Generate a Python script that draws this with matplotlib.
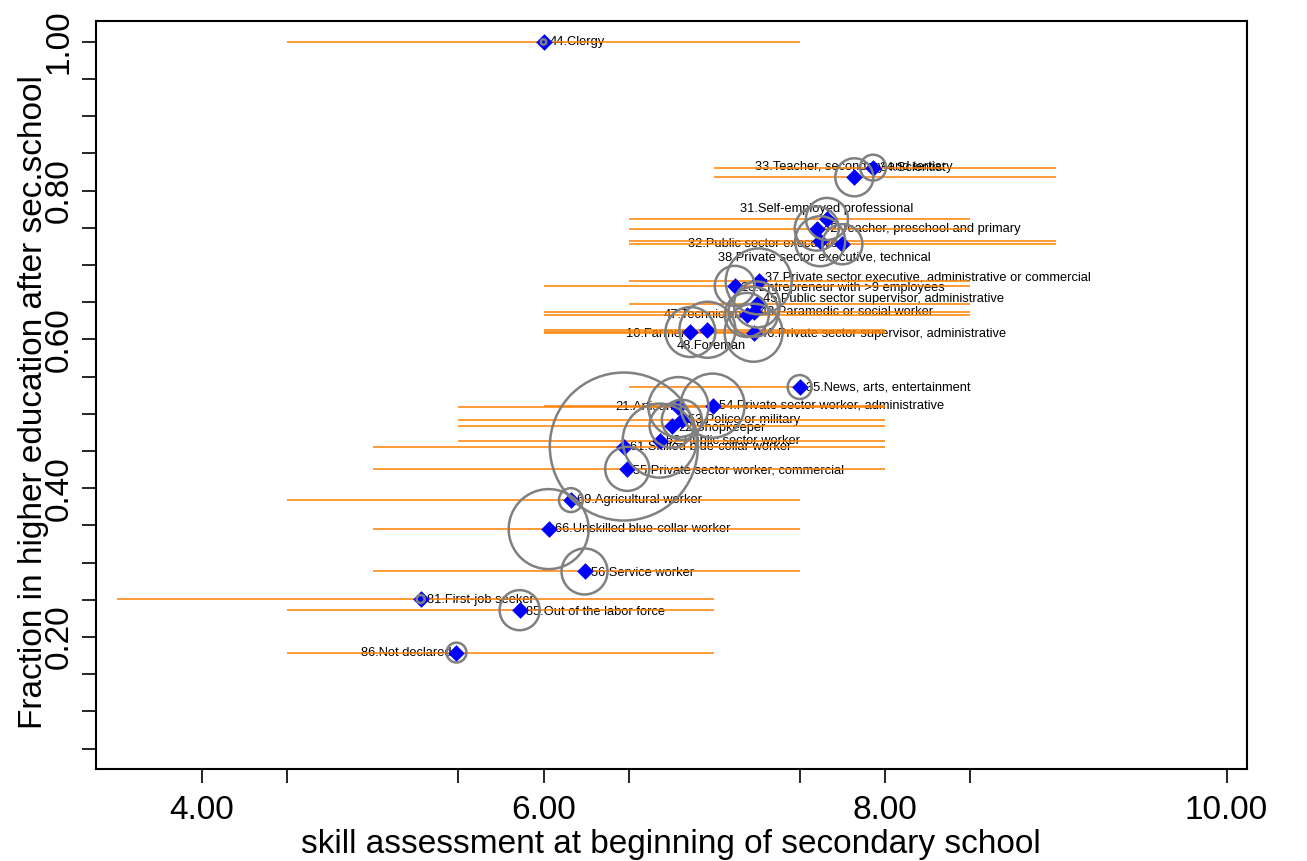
import numpy as np
import matplotlib.pyplot as plt

# occupation of the parent (code + short name)
codes = [44, 33, 34, 31, 42, 32, 38, 37, 23, 45, 43, 47, 10, 48, 46,
         35, 21, 54, 53, 22, 52, 61, 55, 69, 66, 56, 81, 85, 86]
names = ["Clergy", "Teacher, secondary and tertiary", "Scientist",
         "Self-employed professional", "Teacher, preschool and primary",
         "Public sector executive", "Private sector executive, technical",
         "Private sector executive, administrative or commercial",
         "Entrepreneur with >9 employees", "Public sector supervisor, administrative",
         "Paramedic or social worker", "Technician", "Farmer", "Foreman",
         "Private sector supervisor, administrative", "News, arts, entertainment",
         "Artisan", "Private sector worker, administrative", "Police or military",
         "Shopkeeper", "Public sector worker", "Skilled blue-collar worker",
         "Private sector worker, commercial", "Agricultural worker",
         "Unskilled blue-collar worker", "Service worker", "First-job seeker",
         "Out of the labor force", "Not declared"]

# mean skill at entry, fraction going on to higher education
skill_mean = [6.00, 7.82, 7.93, 7.66, 7.60, 7.75, 7.62, 7.26, 7.12, 7.25, 7.23, 7.19, 6.86, 6.96, 7.23,
              7.50, 6.79, 6.99, 6.81, 6.75, 6.68, 6.47, 6.49, 6.16, 6.03, 6.24, 5.28, 5.86, 5.49]
frac_higher = [1.000, 0.818, 0.831, 0.762, 0.749, 0.728, 0.732, 0.678, 0.672, 0.647, 0.637, 0.633, 0.610, 0.613, 0.609,
               0.536, 0.509, 0.511, 0.492, 0.484, 0.464, 0.456, 0.426, 0.384, 0.345, 0.288, 0.251, 0.236, 0.179]

# skill range (low / high) within each group
skill_lo = [4.5, 7.0, 7.0, 6.5, 6.5, 6.5, 6.5, 6.5, 6.0, 6.5, 6.0, 6.0, 6.0, 6.0, 6.0,
            6.5, 5.5, 6.0, 5.5, 5.5, 5.5, 5.0, 5.0, 4.5, 5.0, 5.0, 3.5, 4.5, 4.5]
skill_hi = [7.5, 9.0, 9.0, 8.5, 8.5, 9.0, 9.0, 8.5, 8.5, 8.5, 8.5, 8.5, 8.0, 8.0, 8.0,
            7.5, 8.0, 8.0, 8.0, 8.0, 8.0, 8.0, 8.0, 7.5, 7.5, 7.5, 7.0, 7.0, 7.0]

# share of students (%) -> circle area
share = [0.02, 0.99, 0.46, 1.21, 1.33, 1.10, 1.71, 2.98, 1.10, 1.45, 1.71, 1.33, 1.71, 2.15, 2.30,
         0.39, 2.47, 2.81, 1.10, 1.33, 3.75, 15.0, 1.33, 0.39, 4.38, 1.45, 0.044, 1.10, 0.27]

# marker label clock positions
label_pos = {44: 3, 33: 12, 34: 3, 31: 12, 42: 3, 32: 9, 38: 6, 37: 3, 23: 3, 45: 3,
             43: 3, 47: 9, 10: 9, 48: 6, 46: 3, 35: 3, 21: 9, 54: 3, 53: 3, 22: 3,
             52: 3, 61: 3, 55: 3, 69: 3, 66: 3, 56: 3, 81: 3, 85: 3, 86: 9}
# small vertical nudges (points) for crowded labels
label_nudge = {37: 3.0, 23: -1.5, 45: 4.0, 46: -1.0, 10: -1.5, 22: -1.5, 55: -1.0,
               56: -1.0, 81: -1.0, 85: -1.5}

plt.rcParams["font.family"] = ["Liberation Sans", "DejaVu Sans"]

fig = plt.figure(figsize=(13.07, 8.61), dpi=100)
ax = fig.add_axes([0.0731, 0.1069, 0.881, 0.8691])

y = np.array(frac_higher)
ax.hlines(y, skill_lo, skill_hi, color="#ff8000", lw=1.1, zorder=2)
ax.scatter(skill_mean, y, marker="D", s=72, color="#0000ff", lw=0, zorder=3)
ax.scatter(skill_mean, y, s=np.array(share) * 757, facecolors="none",
           edgecolors="#808080", lw=1.8, zorder=4)

# offsets in points for each clock position
place = {3: (4.5, 0, "left"), 9: (-3.5, 0, "right"),
         12: (0, 7.5, "center"), 6: (3, -11.5, "center")}
for c, n, xv, yv in zip(codes, names, skill_mean, frac_higher):
    dx, dy, ha = place[label_pos[c]]
    dy += label_nudge.get(c, 0)
    ax.annotate(f"{c}.{n}", (xv, yv), xytext=(dx, dy), textcoords="offset points",
                ha=ha, va="center", fontsize=9.3, color="black", zorder=1)

ax.set_xlim(3.376, 10.12)
ax.set_ylim(0.0225, 1.0286)

xt = [4, 4.5, 5.5, 6, 6.5, 7.5, 8, 8.5, 10]
ax.set_xticks(xt)
ax.set_xticklabels([f"{v:.2f}" if v in (4, 6, 8, 10) else "" for v in xt])
yt = np.round(np.arange(0.05, 1.0001, 0.05), 2)
ax.set_yticks(yt)
ax.set_yticklabels([f"{v:.2f}" if round(v * 100) % 20 == 0 else "" for v in yt],
                   rotation=90, va="center")

ax.tick_params(length=10, width=1.2, labelsize=24)
ax.tick_params(axis="x", pad=9)
ax.tick_params(axis="y", pad=5)
for sp in ax.spines.values():
    sp.set_linewidth(1.5)

ax.set_xlabel("skill assessment at beginning of secondary school", fontsize=24, labelpad=2)
ax.set_ylabel("Fraction in higher education after sec.school", fontsize=24)
ax.yaxis.set_label_coords(-0.040, 0.49)

fig.savefig("out.png", dpi=100)
